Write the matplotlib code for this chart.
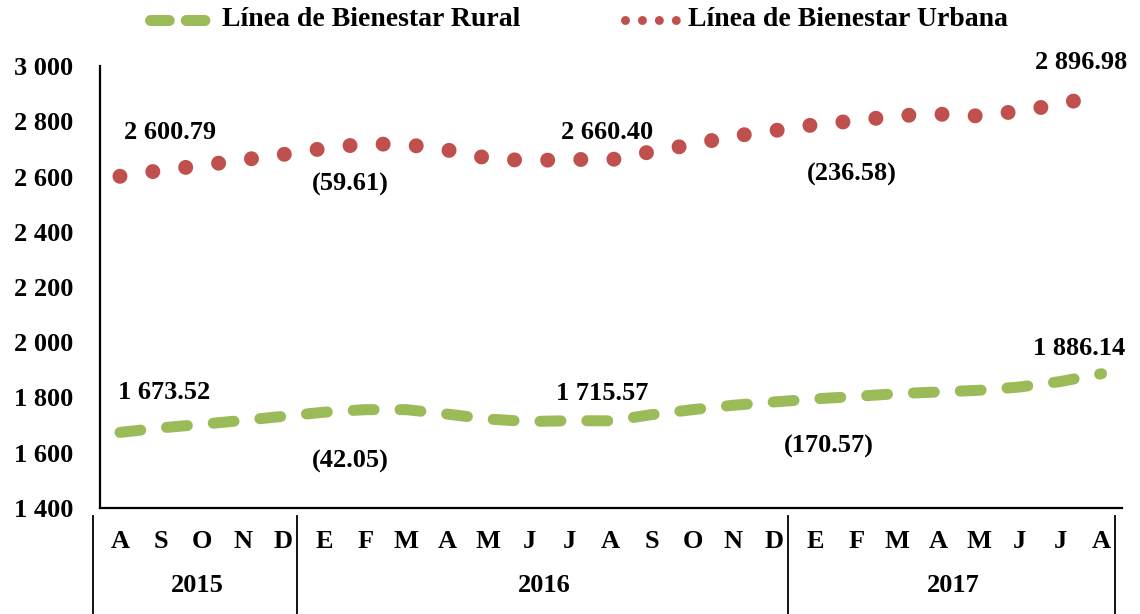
import numpy as np
import matplotlib
matplotlib.use("Agg")
import matplotlib.pyplot as plt
from matplotlib.lines import Line2D
from matplotlib.ticker import FuncFormatter

# datos (MXN por persona, ago-2015 a ago-2017)
meses = ["A", "S", "O", "N", "D",
         "E", "F", "M", "A", "M", "J", "J", "A", "S", "O", "N", "D",
         "E", "F", "M", "A", "M", "J", "J", "A"]
anios = ["2015", "2016", "2017"]
meses_por_anio = [5, 12, 8]

rural = [1673.52, 1690, 1703, 1717, 1732, 1747, 1756, 1756, 1740, 1722, 1713, 1716,
         1715.57, 1738, 1756, 1772, 1784, 1795, 1804, 1814, 1820, 1826, 1838, 1858, 1886.14]
urbana = [2600.79, 2622, 2640, 2660, 2680, 2702, 2718, 2716, 2696, 2666, 2657, 2662,
          2660.40, 2690, 2716, 2746, 2766, 2788, 2802, 2820, 2826, 2819, 2837, 2862, 2896.98]

idx_etiquetas = [0, 12, 24]

# posiciones de las etiquetas (x en categorias, y en unidades del eje)
pos_val_urb = [(1.22, 2761), (11.9, 2761), (23.5, 3011)]
pos_val_rur = [(1.07, 1818), (11.8, 1815), (23.46, 1977)]
pos_dif_urb = [(5.63, 2572), (17.9, 2608)]
pos_dif_rur = [(5.63, 1567), (17.34, 1623)]

VERDE = "#9BBB59"
ROJO = "#C0504D"
DPI = 100
px = 72.0 / DPI  # puntos por pixel

plt.rcParams["font.family"] = ["Liberation Serif", "DejaVu Serif"]
plt.rcParams["font.weight"] = "bold"
FS = 19


def miles(v, pos=None):
    return f"{v:,.0f}".replace(",", " ")


def dos_dec(v):
    return f"{v:,.2f}".replace(",", " ")


fig = plt.figure(figsize=(11.4, 6.14), dpi=DPI)
ax = fig.add_axes([99.5 / 1140, 1 - 508 / 614, (1122 - 99.5) / 1140, (508 - 66) / 614])

x = np.arange(len(meses))

# linea rural: guiones verdes
lw_r = 11
ax.plot(x, rural, color=VERDE, lw=lw_r * px, dash_capstyle="round",
        solid_joinstyle="round", ls=(0, (1.9, 2.36)))
# linea urbana: puntos rojos
lw_u = 15
ax.plot(x, urbana, color=ROJO, lw=lw_u * px, dash_capstyle="round",
        ls=(0, (0.001, 2.21)))

ax.set_xlim(-0.5, len(meses) - 0.5)
ax.set_ylim(1400, 3000)
ax.set_yticks(np.arange(1400, 3001, 200))
ax.yaxis.set_major_formatter(FuncFormatter(miles))
ax.set_xticks(x)
ax.set_xticklabels(meses)
ax.tick_params(axis="y", length=0, pad=19, labelsize=FS)
ax.tick_params(axis="x", length=0, pad=16, labelsize=FS)
for s in ["top", "right"]:
    ax.spines[s].set_visible(False)
for s in ["left", "bottom"]:
    ax.spines[s].set_linewidth(1.6)
    ax.spines[s].set_color("black")

# etiquetas de valores y diferencias
for serie, pos_v, pos_d in [(urbana, pos_val_urb, pos_dif_urb), (rural, pos_val_rur, pos_dif_rur)]:
    for i, (px_, py_) in zip(idx_etiquetas, pos_v):
        ax.text(px_, py_, dos_dec(serie[i]), ha="center", va="center", fontsize=FS)
    for k, (px_, py_) in enumerate(pos_d):
        d = serie[idx_etiquetas[k + 1]] - serie[idx_etiquetas[k]]
        ax.text(px_, py_, f"({d:.2f})", ha="center", va="center", fontsize=FS)

# eje de categorias de dos niveles (anios)
trans = ax.get_xaxis_transform()
limites = np.concatenate([[0], np.cumsum(meses_por_anio)]) - 0.5
for b in limites:
    ax.add_line(Line2D([b - 0.17, b - 0.17], [-0.018, -0.25], transform=trans,
                       color="black", lw=1.3, clip_on=False))
for k, a in enumerate(anios):
    centro = (limites[k] + limites[k + 1]) / 2 - 0.12
    ax.text(centro, -0.175, a, transform=trans, ha="center", va="center", fontsize=FS)

# leyenda manual
yl = 1 - 20 / 614
fig.add_artist(Line2D([150 / 1140, 210 / 1140], [yl, yl], color=VERDE, lw=11 * px,
                      dash_capstyle="round", ls=(0, (1.7, 1.55))))
fig.text(222 / 1140, yl, "Línea de Bienestar Rural", ha="left", va="center", fontsize=20)
fig.add_artist(Line2D([625 / 1140, 676 / 1140], [yl, yl], color=ROJO, lw=9 * px,
                      dash_capstyle="round", ls=(0, (0.001, 1.88))))
fig.text(688 / 1140, yl, "Línea de Bienestar Urbana", ha="left", va="center", fontsize=20)

fig.savefig("out.png", dpi=DPI)
